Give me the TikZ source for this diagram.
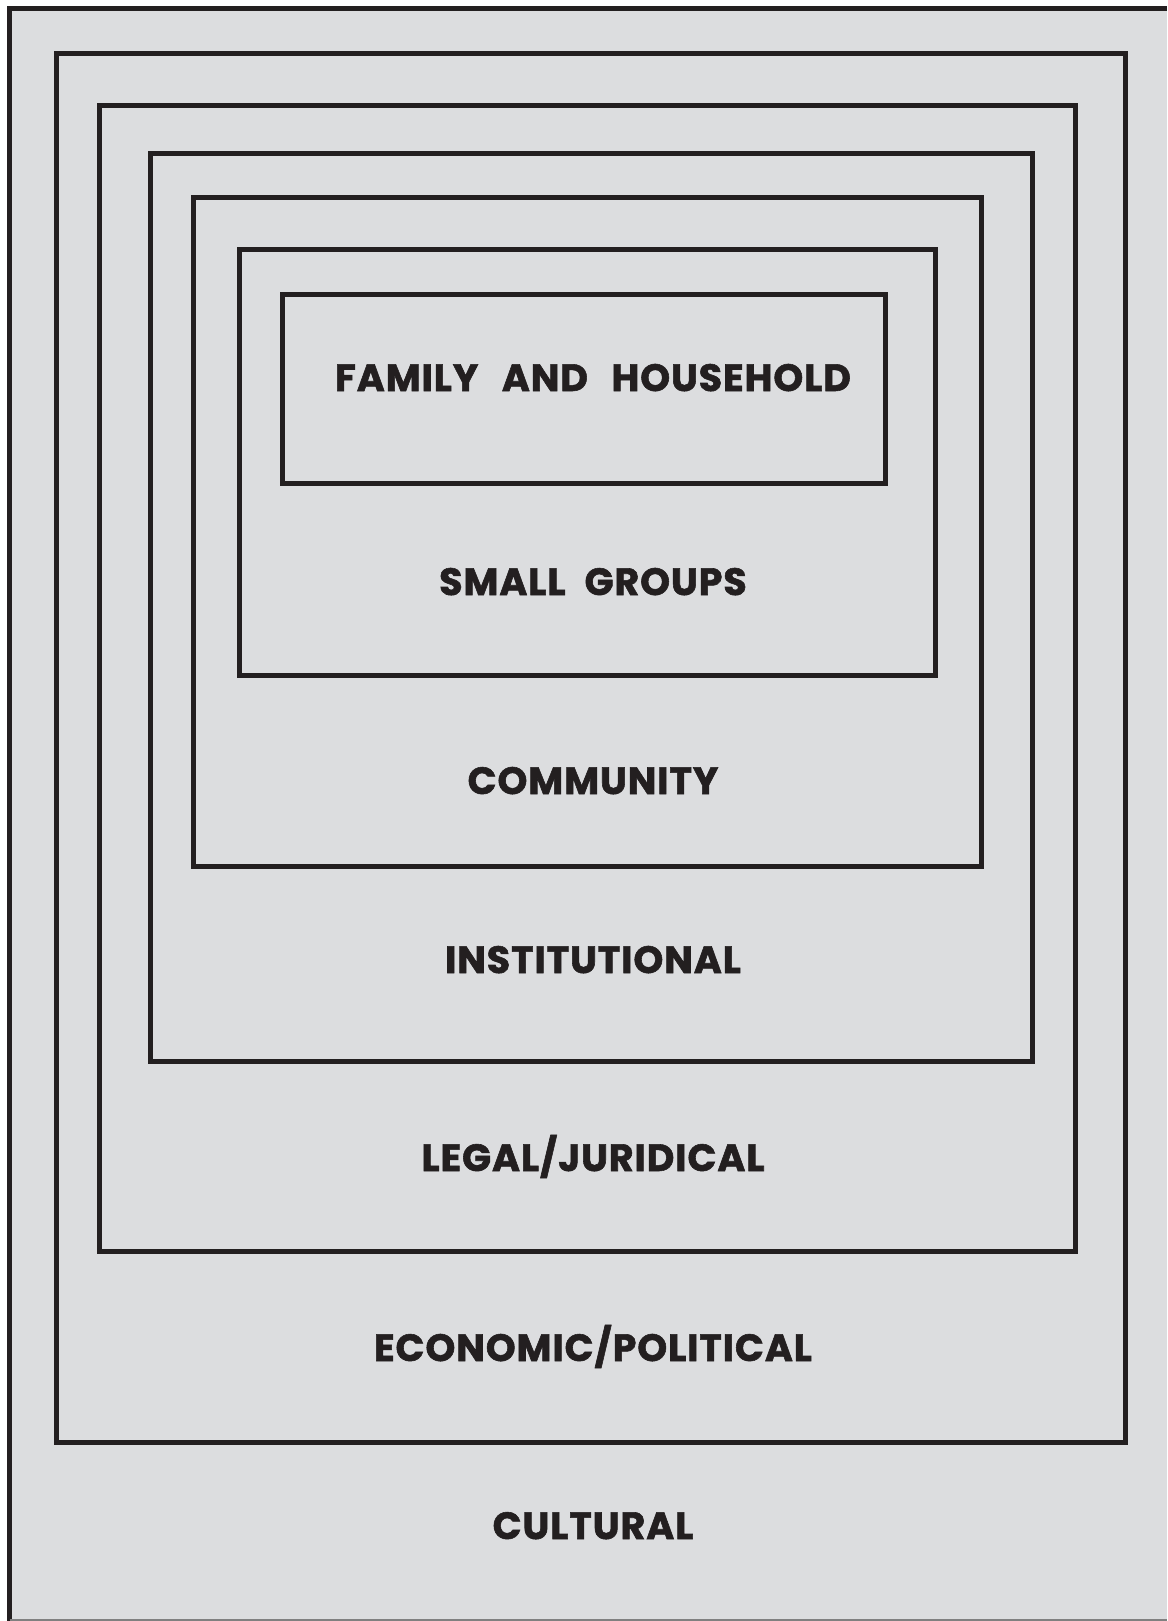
\documentclass[tikz,border=0pt]{standalone}
\usepackage{fontspec}
\setmainfont{Poppins}[BoldFeatures={FakeBold=1.5, LetterSpace=2.5}]
\definecolor{paper}{HTML}{DCDDDF}
\definecolor{ink}{HTML}{231F20}
\tikzset{
  ring/.style={draw=ink, line width=5pt},
  lbl/.style={anchor=base, inner sep=0pt, text=ink, font=\fontsize{38}{40}\selectfont\bfseries}
}
\begin{document}
\begin{tikzpicture}[x=1pt,y=-1pt]
\useasboundingbox (0,0) rectangle (1167,1621);
\fill[white] (0,0) rectangle (1167,1621);
\fill[paper] (9.5,8.5) rectangle (1167,1621);
\draw[ink, line width=5pt] (9.5,1621) -- (9.5,8.5) -- (1167,8.5);
\draw[gray, line width=1.5pt] (9.5,1620.2) -- (1167,1620.2);
% nested levels
\draw[ring] (56,54) rectangle (1125,1442);
\draw[ring] (99,106) rectangle (1075,1251);
\draw[ring] (150,154) rectangle (1032,1061);
\draw[ring] (193,198) rectangle (981,866);
\draw[ring] (239,250) rectangle (935,675);
\draw[ring] (282,294) rectangle (885,483);
% labels
\node[lbl] (family) at (593,391) {FAMILY\hspace{0.62em}AND\hspace{0.62em}HOUSEHOLD};
\node[lbl] (small) at (593,595) {SMALL\hspace{0.5em}GROUPS};
\node[lbl] (community) at (593,794) {COMMUNITY};
\node[lbl] (institutional) at (593,973) {INSTITUTIONAL};
\node[lbl] (legal) at (593,1171) {LEGAL/JURIDICAL};
\node[lbl] (economic) at (593,1361) {ECONOMIC/POLITICAL};
\node[lbl] (cultural) at (593,1539) {CULTURAL};
\end{tikzpicture}
\end{document}
